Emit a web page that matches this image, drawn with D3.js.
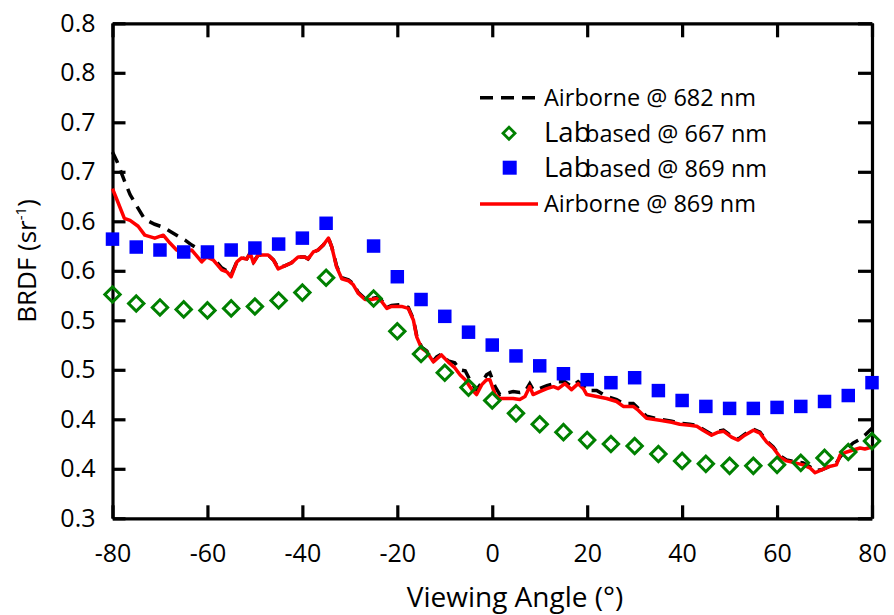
<!DOCTYPE html>
<html>
<head>
<meta charset="utf-8">
<script src="https://cdn.jsdelivr.net/npm/d3@7"></script>
<style>
  html, body { margin: 0; padding: 0; background: #fff; }
  svg { display: block; font-family: "Open Sans", "Noto Sans", sans-serif; }
</style>
</head>
<body>
<svg id="chart" width="894" height="615"></svg>
<script>
// ---------- data ----------
const xTicks = [-80, -60, -40, -20, 0, 20, 40, 60, 80];
const xTickLabels = ["-80", "-60", "-40", "-20", "0", "20", "40", "60", "80"];
const yTicks = [0.30, 0.35, 0.40, 0.45, 0.50, 0.55, 0.60, 0.65, 0.70, 0.75, 0.80];
const yTickLabels = ["0.3", "0.4", "0.4", "0.5", "0.5", "0.6", "0.6", "0.7", "0.7", "0.8", "0.8"];

const labAngles = [-80, -75, -70, -65, -60, -55, -50, -45, -40, -35,
  -25, -20, -15, -10, -5, 0, 5, 10, 15, 20, 25, 30, 35, 40, 45, 50, 55, 60, 65, 70, 75, 80];
const lab667 = [0.526, 0.517, 0.513, 0.511, 0.510, 0.512, 0.514, 0.520, 0.528, 0.543,
  0.522, 0.489, 0.466, 0.447, 0.432, 0.419, 0.406, 0.395, 0.387, 0.379, 0.375, 0.373, 0.365,
  0.358, 0.355, 0.353, 0.353, 0.354, 0.356, 0.361, 0.367, 0.378];
const lab869 = [0.582, 0.574, 0.571, 0.569, 0.569, 0.571, 0.573, 0.577, 0.583, 0.598,
  0.575, 0.544, 0.521, 0.504, 0.488, 0.475, 0.464, 0.454, 0.446, 0.440, 0.437, 0.442, 0.429,
  0.419, 0.413, 0.411, 0.411, 0.412, 0.413, 0.418, 0.424, 0.437];

const airAngles = [-80, -79, -77.5, -76.3, -74.6, -73.2, -71.1, -69.3, -67.9, -66.5,
  -64.7, -63.3, -61.2, -60.2, -58.8, -57, -55.9, -55, -53.8, -52.8,
  -51.7, -51, -50.3, -49.3, -47.2, -46.1, -45.1, -43.7, -42.3, -40.9,
  -39.5, -38.8, -37.7, -36.7, -35.6, -34.5, -33.8, -32.8, -31.7, -30.3,
  -29.3, -28.2, -26.8, -25.4, -24.4, -23.3, -22.2, -21.2, -19.1, -17.7,
  -16.6, -15.9, -14.9, -13.8, -12.4, -11.7, -10.7, -9.3, -7.9, -6.8,
  -5.7, -4.3, -3.3, -2.2, -1.2, -0.5, 0.6, 1.6, 4.4, 5.8,
  6.9, 7.9, 8.6, 10, 11.5, 12.9, 13.9, 15.3, 16.7, 18.1,
  19.2, 19.9, 22, 24.1, 26.2, 27.6, 29.7, 30.8, 32.5, 35.3,
  37.8, 39.5, 41.6, 43.1, 44.4, 46.2, 47.6, 48.7, 50.4, 51.8,
  53.2, 55, 56.4, 57.8, 59.2, 60.6, 62, 63.8, 65.5, 66.9,
  68, 69.4, 70.8, 72.5, 73.3, 74.7, 76, 77.5, 78.5, 80];
const air869 = [0.633, 0.621, 0.603, 0.601, 0.595, 0.586, 0.583, 0.586, 0.578, 0.571,
  0.569, 0.571, 0.559, 0.564, 0.561, 0.551, 0.549, 0.544, 0.559, 0.563,
  0.562, 0.568, 0.558, 0.566, 0.566, 0.561, 0.552, 0.555, 0.558, 0.564,
  0.564, 0.562, 0.569, 0.571, 0.576, 0.583, 0.574, 0.554, 0.542, 0.540,
  0.536, 0.527, 0.521, 0.521, 0.522, 0.519, 0.512, 0.514, 0.514, 0.512,
  0.500, 0.483, 0.472, 0.468, 0.458, 0.461, 0.465, 0.458, 0.452, 0.445,
  0.440, 0.430, 0.425, 0.435, 0.440, 0.440, 0.425, 0.421, 0.421, 0.420,
  0.423, 0.433, 0.425, 0.428, 0.431, 0.433, 0.431, 0.436, 0.430, 0.436,
  0.431, 0.425, 0.423, 0.421, 0.418, 0.413, 0.413, 0.409, 0.401, 0.399,
  0.397, 0.395, 0.394, 0.393, 0.389, 0.384, 0.387, 0.388, 0.382, 0.379,
  0.384, 0.389, 0.386, 0.377, 0.371, 0.362, 0.358, 0.356, 0.354, 0.351,
  0.346, 0.349, 0.352, 0.354, 0.364, 0.367, 0.369, 0.371, 0.370, 0.372];
const air682 = [0.670, 0.660, 0.641, 0.627, 0.613, 0.602, 0.597, 0.594, 0.590, 0.586,
  0.581, 0.576, 0.570, 0.568, 0.563, 0.553, 0.550, 0.546, 0.559, 0.563,
  0.562, 0.568, 0.559, 0.566, 0.566, 0.561, 0.553, 0.555, 0.558, 0.564,
  0.564, 0.562, 0.569, 0.571, 0.576, 0.583, 0.574, 0.555, 0.543, 0.541,
  0.537, 0.528, 0.522, 0.522, 0.523, 0.520, 0.513, 0.515, 0.516, 0.513,
  0.501, 0.484, 0.473, 0.469, 0.459, 0.463, 0.466, 0.459, 0.457, 0.450,
  0.449, 0.436, 0.430, 0.437, 0.445, 0.447, 0.433, 0.425, 0.428, 0.427,
  0.428, 0.436, 0.430, 0.431, 0.434, 0.436, 0.438, 0.438, 0.433, 0.438,
  0.434, 0.429, 0.429, 0.423, 0.420, 0.416, 0.416, 0.411, 0.403, 0.400,
  0.398, 0.396, 0.395, 0.394, 0.390, 0.385, 0.388, 0.389, 0.383, 0.380,
  0.385, 0.390, 0.387, 0.378, 0.372, 0.363, 0.359, 0.357, 0.356, 0.352,
  0.348, 0.349, 0.352, 0.356, 0.362, 0.370, 0.376, 0.380, 0.384, 0.391];

const legendLabels = ["Airborne @ 682 nm", "based @ 667 nm", "based @ 869 nm", "Airborne @ 869 nm"];
const legendPrefix = "Lab";
const xTitle = "Viewing Angle (°)";

// ---------- layout ----------
const svg = d3.select("#chart");
const L = 112.5, R = 872, T = 23.3, B = 518.3;
const x = d3.scaleLinear().domain([-80, 80]).range([L, R]);
const y = d3.scaleLinear().domain([0.3, 0.8]).range([B, T]);

const FS = 25;

function styleAxis(g) {
  g.selectAll("path.domain").attr("stroke", "#000").attr("stroke-width", 3.2);
  g.selectAll(".tick line").attr("stroke", "#000").attr("stroke-width", 3.2);
  g.selectAll(".tick text").attr("font-size", FS).attr("fill", "#000")
    .attr("font-family", '"Open Sans", sans-serif');
}

svg.append("g").attr("transform", `translate(0,${B})`)
  .call(d3.axisBottom(x).tickValues(xTicks).tickFormat((d, i) => xTickLabels[i])
    .tickSizeInner(-13).tickSizeOuter(0).tickPadding(26))
  .call(styleAxis);

svg.append("g").attr("transform", `translate(0,${T})`)
  .call(d3.axisTop(x).tickValues(xTicks).tickFormat("")
    .tickSizeInner(-14).tickSizeOuter(0))
  .call(styleAxis);

svg.append("g").attr("transform", `translate(${L},0)`)
  .call(d3.axisLeft(y).tickValues(yTicks).tickFormat((d, i) => yTickLabels[i])
    .tickSizeInner(-13).tickSizeOuter(0).tickPadding(17))
  .call(styleAxis);

svg.append("g").attr("transform", `translate(${R},0)`)
  .call(d3.axisRight(y).tickValues(yTicks).tickFormat("")
    .tickSizeInner(-14).tickSizeOuter(0))
  .call(styleAxis);

// lines
const line = d3.line().x(d => x(d[0])).y(d => y(d[1]));
const blackData = airAngles.map((a, i) => [a, air682[i]]);
const redData = airAngles.map((a, i) => [a, air869[i]]);

svg.append("path").datum(blackData).attr("d", line)
  .attr("fill", "none").attr("stroke", "#000").attr("stroke-width", 3.5)
  .attr("stroke-dasharray", "12,8");
svg.append("path").datum(redData).attr("d", line)
  .attr("fill", "none").attr("stroke", "#ff0000").attr("stroke-width", 3.5)
  .attr("stroke-linejoin", "round");

// markers
const diamond = d3.symbol().type(d3.symbolSquare).size(118);
const square = d3.symbol().type(d3.symbolSquare).size(182);

svg.append("g").selectAll("path").data(labAngles.map((a, i) => [a, lab667[i]]))
  .join("path").attr("d", diamond)
  .attr("transform", d => `translate(${x(d[0])},${y(d[1])}) rotate(45)`)
  .attr("fill", "none").attr("stroke", "#008000").attr("stroke-width", 3);

svg.append("g").selectAll("path").data(labAngles.map((a, i) => [a, lab869[i]]))
  .join("path").attr("d", square)
  .attr("transform", d => `translate(${x(d[0])},${y(d[1])})`)
  .attr("fill", "#0000ff");

// legend
const lg = svg.append("g");
const LFS = 23.5;
lg.append("line").attr("x1", 480).attr("x2", 538).attr("y1", 97.7).attr("y2", 97.7)
  .attr("stroke", "#000").attr("stroke-width", 3.5).attr("stroke-dasharray", "13,8");
lg.append("text").attr("x", 544).attr("y", 106).attr("font-size", LFS).text(legendLabels[0]);

lg.append("path").attr("d", d3.symbol().type(d3.symbolSquare).size(72))
  .attr("transform", "translate(509,133.3) rotate(45)")
  .attr("fill", "none").attr("stroke", "#008000").attr("stroke-width", 2.8);
const t2 = lg.append("text").attr("x", 544).attr("y", 141.7);
t2.append("tspan").attr("font-size", 27.5).text(legendPrefix);
t2.append("tspan").attr("x", 585).attr("font-size", LFS).text(legendLabels[1]);

lg.append("rect").attr("x", 502.7).attr("y", 160.7).attr("width", 14).attr("height", 14)
  .attr("fill", "#0000ff");
const t3 = lg.append("text").attr("x", 544).attr("y", 176.7);
t3.append("tspan").attr("font-size", 27.5).text(legendPrefix);
t3.append("tspan").attr("x", 585).attr("font-size", LFS).text(legendLabels[2]);

lg.append("line").attr("x1", 480).attr("x2", 538).attr("y1", 204).attr("y2", 204)
  .attr("stroke", "#ff0000").attr("stroke-width", 3.5);
lg.append("text").attr("x", 544).attr("y", 212.3).attr("font-size", LFS).text(legendLabels[3]);

// axis titles
svg.append("text").attr("x", 515).attr("y", 606.5).attr("text-anchor", "middle")
  .attr("font-size", 28).text(xTitle);

const yt = svg.append("text")
  .attr("transform", "translate(36,261) rotate(-90)")
  .attr("text-anchor", "middle").attr("font-size", 26);
yt.append("tspan").text("BRDF (sr");
yt.append("tspan").attr("font-size", 15).attr("dy", -10).text("-1");
yt.append("tspan").attr("dy", 10).text(")");
</script>
</body>
</html>
